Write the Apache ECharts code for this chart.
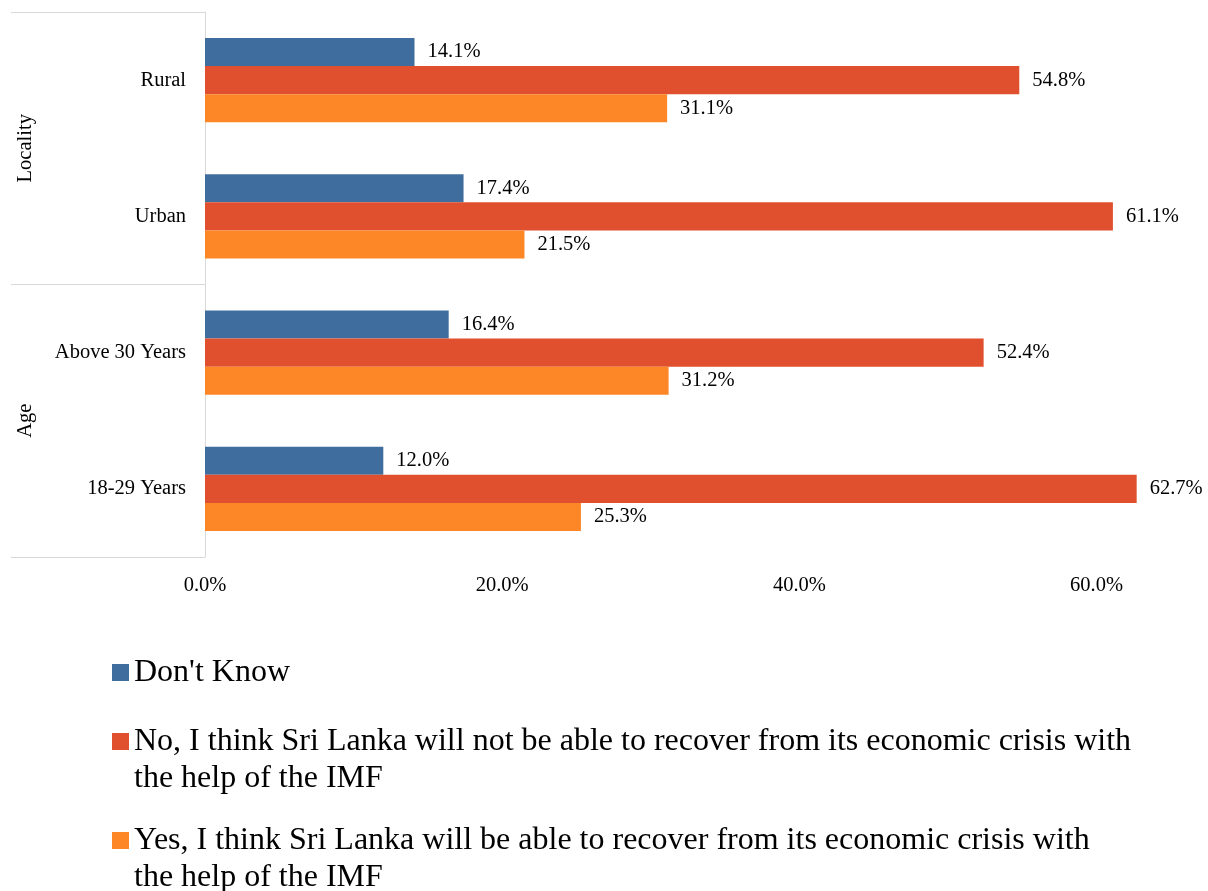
<!DOCTYPE html>
<html>
<head>
<meta charset="utf-8">
<script src="https://cdn.jsdelivr.net/npm/echarts@6/dist/echarts.min.js"></script>
<style>
  html, body { margin: 0; padding: 0; background: #ffffff; }
  #chart { width: 1208px; height: 891px; }
</style>
</head>
<body>
<div id="chart"></div>
<script>
// Survey: will Sri Lanka recover from its economic crisis with IMF help?
const categories = ['Rural', 'Urban', 'Above 30 Years', '18-29 Years'];
const groups = ['Locality', 'Age'];
const seriesNames = [
  "Don't Know",
  'No, I think Sri Lanka will not be able to recover from its economic crisis with the help of the IMF',
  'Yes, I think Sri Lanka will be able to recover from its economic crisis with the help of the IMF'
];
const dontKnow = [14.1, 17.4, 16.4, 12.0];
const answerNo = [54.8, 61.1, 52.4, 62.7];
const answerYes = [31.1, 21.5, 31.2, 25.3];
const colors = ['#3F6E9E', '#E04F2E', '#FD8726'];

const FONT = "'Liberation Serif', 'Times New Roman', serif";
const SMALL = 20.5;
const values = [dontKnow, answerNo, answerYes];

// Long legend entries wrap before "the help of the IMF"; a leading blank line
// keeps the marker level with the first line of text.
function wrapName(name) {
  const idx = name.indexOf(' the help of the IMF');
  if (idx < 0) return name;
  return ' \n' + name.slice(0, idx) + '\n' + name.slice(idx + 1);
}

const legendTops = [654, 686, 785];
const legends = seriesNames.map((name, i) => ({
  data: [name],
  orient: 'vertical',
  left: 112,
  top: legendTops[i],
  padding: 0,
  icon: 'rect',
  itemWidth: 17,
  itemHeight: 17,
  selectedMode: false,
  formatter: wrapName,
  textStyle: {
    fontFamily: FONT,
    fontSize: 32,
    color: '#000',
    lineHeight: 37
  }
}));

const chart = echarts.init(document.getElementById('chart'));
chart.setOption({
  backgroundColor: '#ffffff',
  animation: false,
  textStyle: { fontFamily: FONT },
  legend: legends,
  grid: { left: 205, right: 0, top: 12, bottom: 334, containLabel: false },
  xAxis: {
    type: 'value',
    min: 0,
    max: 67.5,
    interval: 20,
    axisLine: { show: false },
    axisTick: { show: false },
    splitLine: { show: false },
    axisLabel: {
      showMaxLabel: false,
      margin: 18,
      fontFamily: FONT,
      fontSize: SMALL,
      color: '#000',
      formatter: v => v.toFixed(1) + '%'
    }
  },
  yAxis: [
    {
      type: 'category',
      data: categories,
      inverse: true,
      position: 'left',
      axisLine: { show: true, lineStyle: { color: '#d9d9d9', width: 1 } },
      axisTick: { show: false },
      axisLabel: { margin: 19, fontFamily: FONT, fontSize: SMALL, color: '#000' }
    },
    {
      type: 'category',
      data: groups,
      inverse: true,
      position: 'left',
      axisLine: { show: false },
      axisTick: { show: true, length: 194, lineStyle: { color: '#d9d9d9', width: 1 } },
      axisLabel: { rotate: 90, margin: 169, fontFamily: FONT, fontSize: SMALL, color: '#000' }
    }
  ],
  series: seriesNames.map((name, i) => ({
    name: name,
    type: 'bar',
    yAxisIndex: 0,
    data: values[i],
    barGap: '0%',
    barCategoryGap: '38%',
    itemStyle: { color: colors[i] },
    label: {
      show: true,
      position: 'right',
      distance: 13,
      fontFamily: FONT,
      fontSize: SMALL,
      color: '#000',
      formatter: p => p.value.toFixed(1) + '%'
    }
  }))
});
</script>
</body>
</html>
